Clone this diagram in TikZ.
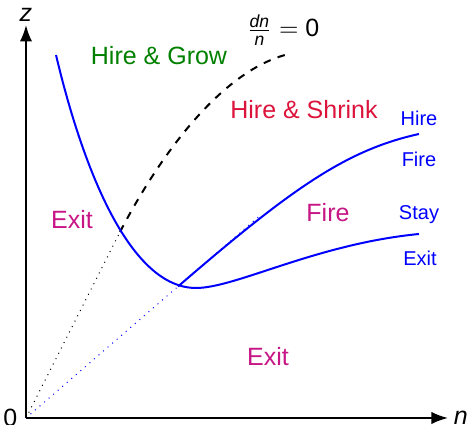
\documentclass[tikz,border=0pt]{standalone}
\usepackage{amsmath}
\usepackage{fontspec}
\setmainfont{Liberation Sans}
\usetikzlibrary{arrows.meta, calc}
\definecolor{growgreen}{RGB}{0,128,0}
\definecolor{shrinkred}{RGB}{220,20,60}
\definecolor{exitmag}{RGB}{199,21,133}

\begin{document}
\begin{tikzpicture}[x=0.4pt, y=0.4pt]
\useasboundingbox (-26,-7) rectangle (443,418);
\coordinate (O) at (0,0);
\coordinate (M) at (170,130);
\coordinate (K) at (152,131.5);
\coordinate (D) at (94,186);
\draw[-{Latex}, thick] (O) -- (422,0) node[right, inner sep=2pt]{\textit{n}};
\draw[-{Latex}, thick] (O) -- (0,393) node[above, inner sep=1pt]{\textit{z}};
\node[left] at (O) {0};
\draw[blue, dotted] (O) -- ($(O)!1.55!(K)$);
\draw[dotted] (O) -- (D);
\draw[thick, dashed] (D) .. controls (135,265) and (195,345) .. (259,363);
\draw[blue, thick] (30,363) .. controls (58,245) and (105,130) .. (M)
  .. controls (210,130) and (290,174) .. (393,184);
\draw[blue, thick] (K) .. controls (265,229) and (320,268) .. (393,284);
\node at (257,388) {$\frac{\textit{dn}}{\textit{n}}=\text{0}$};
\node[growgreen] at (133,362) {Hire \& Grow};
\node[shrinkred] at (278,308) {Hire \& Shrink};
\node[exitmag] at (46,198) {Exit};
\node[exitmag] at (302,205) {Fire};
\node[exitmag] at (242,61) {Exit};
\node[font=\footnotesize, blue] at (393,300) {Hire};
\node[font=\footnotesize, blue] at (393,259) {Fire};
\node[font=\footnotesize, blue] at (393,203) {Stay};
\node[font=\footnotesize, blue] at (394,160) {Exit};
\end{tikzpicture}
\end{document}
